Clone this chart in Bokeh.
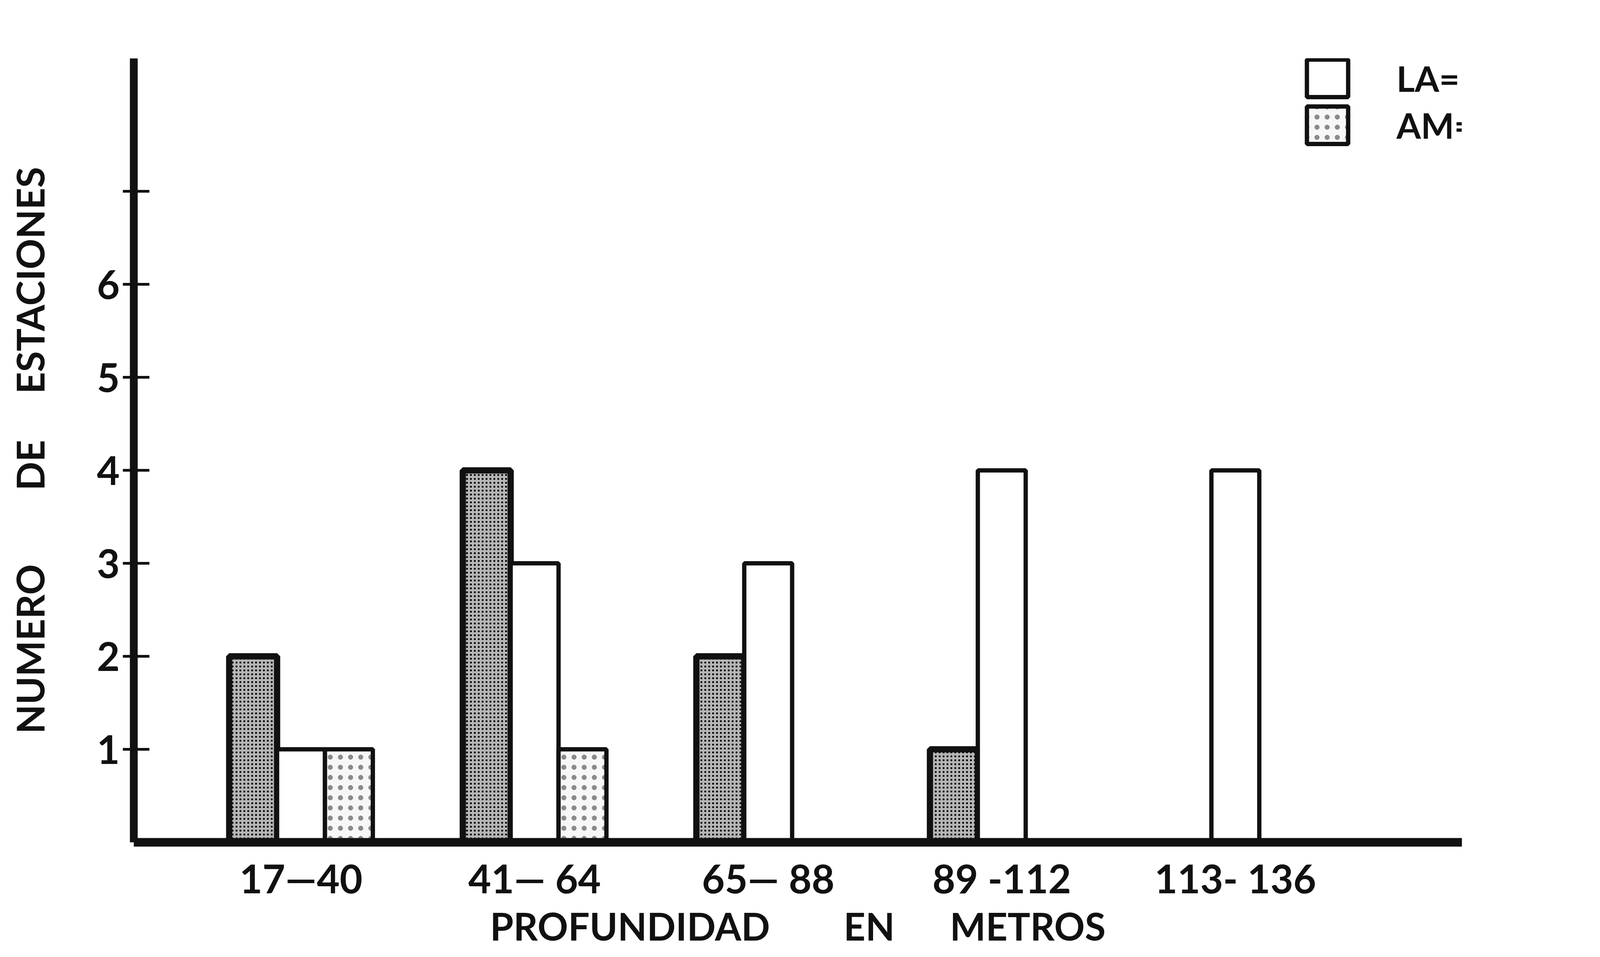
from bokeh.plotting import figure
from bokeh.models import ColumnDataSource, Range1d, FixedTicker, Legend, LegendItem
from bokeh.transform import dodge
from bokeh.embed import file_html
from bokeh.resources import INLINE

# ---- data ----
categories = ["17\u201440", "41\u2014 64", "65\u2014 88", "89 -112", "113- 136"]
laf_values = [2, 4, 2, 1, 0]   # Laf = Limo arenoso fino
la_values = [1, 3, 3, 4, 4]    # LA = Limo arcilloso
am_values = [1, 1, 0, 0, 0]    # AM = Arena Mediana
series_labels = ["Laf= Limo arenoso fino", "LA= Limo arcilloso", "AM= Arena Mediana"]
y_ticks = [1, 2, 3, 4, 5, 6]
y_extra_ticks = [7]
x_title = "PROFUNDIDAD" + "\u00a0" * 8 + "EN" + "\u00a0" * 6 + "METROS"
y_title = "NUMERO" + "\u00a0" * 8 + "DE" + "\u00a0" * 5 + "ESTACIONES"

W, H = 4550, 2433
FONT = "Lato"
INK = "#111111"

p = figure(width=W, height=H, output_backend="svg", toolbar_location=None,
           x_range=Range1d(-0.716, 4.97), y_range=Range1d(0, 8.43),
           min_border_left=342, min_border_right=808, min_border_top=149,
           min_border_bottom=278)
p.outline_line_color = None
p.grid.visible = False
p.background_fill_color = "white"
p.border_fill_color = "white"

idx = list(range(len(categories)))


def make_source(vals):
    return ColumnDataSource(dict(x=[i for i, v in zip(idx, vals) if v > 0],
                                 top=[v for v in vals if v > 0]))


bw = 0.205
r_laf = p.vbar(x=dodge("x", -bw), top="top", bottom=0, width=bw, source=make_source(laf_values),
               fill_color="#b5b5b5", line_color=INK, line_width=16,
               hatch_pattern="dot", hatch_color="#000000", hatch_scale=10, hatch_weight=6)
r_la = p.vbar(x=dodge("x", 0), top="top", bottom=0, width=bw, source=make_source(la_values),
              fill_color="white", line_color=INK, line_width=11)
r_am = p.vbar(x=dodge("x", bw), top="top", bottom=0, width=bw, source=make_source(am_values),
              fill_color="#f7f7f7", line_color=INK, line_width=11,
              hatch_pattern="dot", hatch_color="#8a8a8a", hatch_scale=26, hatch_weight=7)

# y axis
ya = p.yaxis[0]
ya.ticker = FixedTicker(ticks=y_ticks, minor_ticks=y_extra_ticks)
ya.axis_line_width = 20
ya.axis_line_color = INK
ya.major_tick_line_width = 7
ya.major_tick_line_color = INK
ya.major_tick_in = 40
ya.major_tick_out = 28
ya.minor_tick_line_width = 7
ya.minor_tick_line_color = INK
ya.minor_tick_in = 40
ya.minor_tick_out = 28
ya.major_label_standoff = 8
ya.major_label_text_font = FONT
ya.major_label_text_font_style = "bold"
ya.major_label_text_font_size = "101px"
ya.major_label_text_color = INK
ya.axis_label = y_title
ya.axis_label_text_font = FONT
ya.axis_label_text_font_style = "bold"
ya.axis_label_text_font_size = "97px"
ya.axis_label_text_color = INK
ya.axis_label_standoff = 110

# x axis
xa = p.xaxis[0]
xa.ticker = FixedTicker(ticks=idx)
xa.major_label_overrides = {i: c for i, c in zip(idx, categories)}
xa.axis_line_width = 22
xa.axis_line_color = INK
xa.major_tick_in = 0
xa.major_tick_out = 0
xa.minor_tick_line_color = None
xa.major_label_standoff = 30
xa.major_label_text_font = FONT
xa.major_label_text_font_style = "bold"
xa.major_label_text_font_size = "101px"
xa.major_label_text_color = INK
xa.axis_label = x_title
xa.axis_label_text_font = FONT
xa.axis_label_text_font_style = "bold"
xa.axis_label_text_font_size = "97px"
xa.axis_label_text_color = INK
xa.axis_label_standoff = 0

legend = Legend(items=[LegendItem(label=lbl, renderers=[r])
                       for lbl, r in zip(series_labels, [r_laf, r_la, r_am])],
                location=(2990, 1775), orientation="vertical",
                glyph_width=132, glyph_height=120, label_height=120, spacing=0,
                padding=0, margin=0, label_standoff=111,
                border_line_alpha=0, background_fill_alpha=0,
                label_text_font=FONT, label_text_font_style="bold",
                label_text_font_size="90px", label_text_color=INK)
p.add_layout(legend)

open("out.html", "w").write(file_html(p, INLINE))
